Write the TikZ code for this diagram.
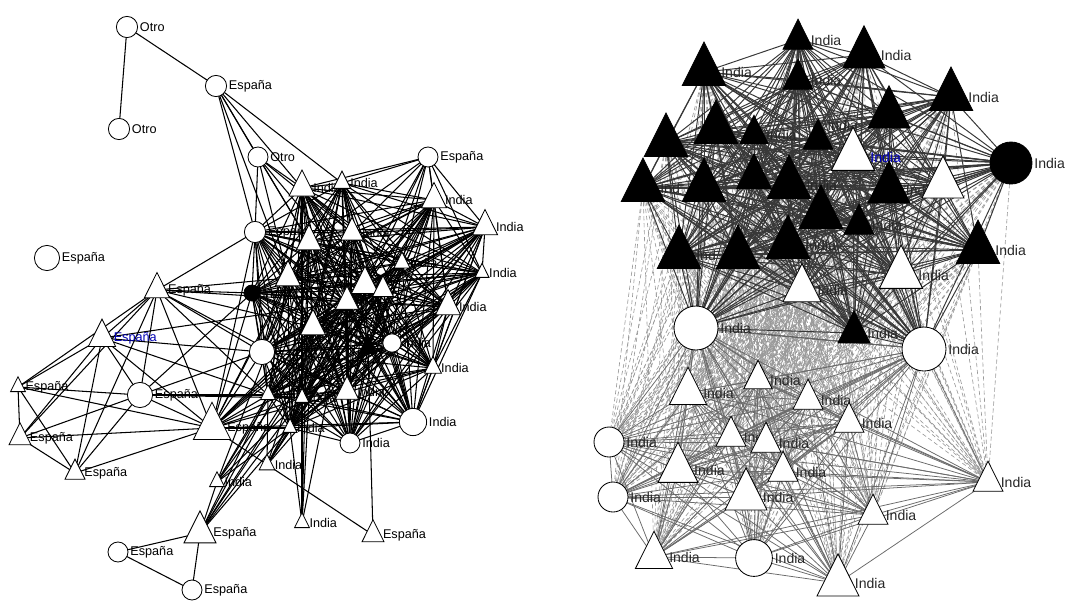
\documentclass[tikz,border=0pt]{standalone}
\usepackage{fontspec}
\setmainfont{Liberation Sans}
\usetikzlibrary{shapes.geometric, backgrounds}

\begin{document}
\begin{tikzpicture}[
    x=0.025cm, y=-0.025cm,
    every label/.style={inner sep=1.5pt, font=\fontsize{9}{10}\selectfont},
    nd/.style={draw=black, fill=white, inner sep=0pt, outer sep=0pt, line width=0.6pt},
    circ/.style={nd, circle, minimum size=#1},
    circ/.default=0.53cm,
    tri/.style={nd, isosceles triangle, isosceles triangle apex angle=53,
                shape border rotate=90, minimum size=#1},
    tri/.default=0.63cm,
    blk/.style={fill=black},
    big/.style={every label/.append style={font=\fontsize{10}{11}\selectfont, text=black!85}},
    lnk/.style={line width=0.75pt, black},
    toplnk/.style={line width=0.7pt, black!78},
    botlnk/.style={line width=0.55pt, black!58},
    crosslnk/.style={line width=0.45pt, black!40, densely dashed}
]
   \useasboundingbox (0,0) rectangle (1092,601);

   % Left network: nodes
   \node[circ, label=right:Otro] (L1) at (127,27) {};
   \node[circ, label=right:España] (L2) at (216,86) {};
   \node[circ, label=right:Otro] (L3) at (119,129) {};
   \node[circ=0.5cm, label=right:Otro] (L4) at (258,157) {};
   \node[circ=0.5cm, label=right:España] (L5) at (428,157) {};
   \node[tri=0.65cm, label=right:India] (L6) at (302,188) {};
   \node[tri=0.43cm, label=right:India] (L7) at (342,183) {};
   \node[tri, label=right:India] (L8) at (434,200) {};
   \node[tri, label=right:India] (L9) at (485,227) {};
   \node[circ, label=right:España] (L10) at (255,232) {};
   \node[tri] (L11) at (309,242) {};
   \node[tri=0.56cm, label=right:India] (L12) at (352,233) {};
   \node[tri=0.4cm, label=right:India] (L13) at (402,263) {};
   \node[tri=0.35cm, label=right:India] (L14) at (482,273) {};
   \node[circ=0.63cm, label=right:España] (L15) at (47,258) {};
   \node[tri, label=right:España] (L16) at (157,290) {};
   \node[circ=0.4cm, blk, label=right:India] (L17) at (252,293) {};
   \node[tri] (L18) at (288,278) {};
   \node[tri=0.68cm] (L19) at (365,285) {};
   \node[tri=0.58cm] (L20) at (347,302) {};
   \node[tri=0.52cm] (L21) at (383,290) {};
   \node[tri, label=right:India] (L22) at (448,307) {};
   \node[tri=0.68cm, label={[text=blue!70!black]right:España}] (L23) at (102,338) {};
   \node[tri] (L24) at (313,327) {};
   \node[circ=0.63cm] (L25) at (262,352) {};
   \node[tri=0.44cm, blk] (L26) at (368,348) {};
   \node[circ=0.46cm, label=right:India] (L27) at (392,343) {};
   \node[tri=0.42cm, label=right:India] (L28) at (433,368) {};
   \node[tri=0.37cm, label=right:España] (L29) at (18,387) {};
   \node[circ=0.63cm, label=right:España] (L30) at (140,395) {};
   \node[tri=0.37cm, label=right:India] (L31) at (268,395) {};
   \node[tri=0.35cm, label=right:India] (L32) at (302,398) {};
   \node[tri=0.58cm, label=right:India] (L33) at (347,392) {};
   \node[tri=0.93cm, label=right:España] (L34) at (212,428) {};
   \node[tri=0.35cm, label=right:India] (L35) at (290,428) {};
   \node[circ=0.5cm, label=right:India] (L36) at (350,443) {};
   \node[circ=0.68cm, label=right:India] (L37) at (413,422) {};
   \node[tri=0.55cm, label=right:España] (L38) at (20,438) {};
   \node[tri=0.5cm, label=right:España] (L39) at (75,473) {};
   \node[tri=0.39cm, label=right:India] (L40) at (267,465) {};
   \node[tri=0.37cm, label=right:India] (L41) at (217,482) {};
   \node[tri=0.37cm, label=right:India] (L42) at (302,523) {};
   \node[tri=0.8cm, label=right:España] (L43) at (200,533) {};
   \node[tri=0.55cm, label=right:España] (L44) at (373,535) {};
   \node[circ=0.5cm, label=right:España] (L45) at (118,552) {};
   \node[circ=0.5cm, label=right:España] (L46) at (192,590) {};

   % Right network: nodes
   \begin{scope}[big]
   \node[tri=0.75cm, blk, label=right:India] (R1) at (798,40) {};
   \node[tri=1.05cm, blk, label=right:India] (R2) at (864,55) {};
   \node[tri=1.08cm, blk, label=right:India] (R3) at (704,72) {};
   \node[tri=0.75cm, blk, label=right:India] (R4) at (798,80) {};
   \node[tri=1.08cm, blk, label=right:India] (R5) at (951,97) {};
   \node[tri=1.05cm, blk] (R6) at (889,115) {};
   \node[tri=1.08cm, blk] (R7) at (716,130) {};
   \node[tri=0.71cm, blk, label=right:India] (R8) at (754,135) {};
   \node[tri=0.75cm, blk, label=above right:India] (R9) at (818,140) {};
   \node[tri=1.08cm, label={[text=blue!75!black]right:India}] (R10) at (853,157) {};
   \node[tri=1.08cm, blk] (R11) at (666,143) {};
   \node[circ=1.05cm, blk, label=right:India] (R12) at (1011,163) {};
   \node[tri=1.08cm, blk, label=right:Ind] (R13) at (643,188) {};
   \node[tri=1.08cm, blk] (R14) at (704,188) {};
   \node[tri=0.87cm, blk] (R15) at (754,178) {};
   \node[tri=1.08cm, blk, label=right:India] (R16) at (789,185) {};
   \node[tri=1.05cm, blk, label=right:India] (R17) at (889,190) {};
   \node[tri=1.05cm] (R18) at (943,185) {};
   \node[tri=1.08cm, blk] (R19) at (821,215) {};
   \node[tri=0.75cm, blk, label=right:India] (R20) at (859,225) {};
   \node[tri=1.08cm, blk, label=right:Ind] (R21) at (679,255) {};
   \node[tri=1.08cm, blk] (R22) at (738,255) {};
   \node[tri=1.08cm, blk, label=right:India] (R23) at (788,245) {};
   \node[tri=1.08cm, blk, label=right:India] (R24) at (978,250) {};
   \node[tri=1.08cm, label=right:India] (R25) at (901,275) {};
   \node[tri=0.95cm, label=right:India] (R26) at (802,290) {};
   \node[circ=1.1cm, label=right:India] (R27) at (696,328) {};
   \node[tri=0.8cm, blk, label=right:India] (R28) at (854,333) {};
   \node[circ=1.1cm, label=right:India] (R29) at (924,349) {};
   \node[tri=0.93cm, label=right:India] (R30) at (688,393) {};
   \node[tri=0.71cm, label=right:India] (R31) at (758,380) {};
   \node[tri=0.75cm, label=right:India] (R32) at (808,400) {};
   \node[tri=0.75cm, label=right:India] (R33) at (849,423) {};
   \node[tri=0.75cm, label=right:India] (R34) at (731,437) {};
   \node[tri=0.75cm, label=right:India] (R35) at (766,443) {};
   \node[tri=1.0cm, label=right:India] (R36) at (678,470) {};
   \node[tri=0.75cm, label=right:India] (R37) at (783,472) {};
   \node[tri=1.05cm, label=right:India] (R38) at (746,497) {};
   \node[circ=0.75cm, label=right:India] (R39) at (609,442) {};
   \node[circ=0.75cm, label=right:India] (R40) at (613,497) {};
   \node[tri=0.75cm, label=right:India] (R41) at (873,515) {};
   \node[tri=0.75cm, label=right:India] (R42) at (988,482) {};
   \node[tri=0.93cm, label=right:India] (R43) at (654,557) {};
   \node[circ=0.92cm, label=right:India] (R44) at (754,558) {};
   \node[tri=1.05cm, label=right:India] (R45) at (838,583) {};
   \end{scope}

   % Links
   \def\lcore{L6,L7,L8,L9,L10,L11,L12,L13,L14,L17,L18,L19,L20,L21,L22,L24,L25,L26,L27,L28,L31,L32,L33,L35,L36,L37}
   \def\lwest{L16,L23,L29,L30,L34,L38,L39}
   \def\rtop{R1,R2,R3,R4,R5,R6,R7,R8,R9,R10,R11,R12,R13,R14,R15,R16,R17,R18,R19,R20,R21,R22,R23,R24,R25,R26,R27,R28,R29}
   \def\rbot{R27,R29,R30,R31,R32,R33,R34,R35,R36,R37,R38,R39,R40,R41,R42,R43,R44,R45}
   \def\rup{R1,R2,R3,R4,R5,R6,R7,R8,R9,R10,R11,R12,R13,R14,R15,R16,R17,R18,R19,R20,R21,R22,R23,R24,R25,R26}
   \def\rlow{R30,R31,R32,R33,R34,R35,R36,R37,R38,R39,R40,R41,R42,R43,R44,R45}
   \begin{pgfonlayer}{background}
   \foreach \a [count=\i] in \lcore
     \foreach \b [count=\j] in \lcore
       {\ifnum\j>\i \draw[lnk] (\a.center) -- (\b.center); \fi}
   \foreach \a [count=\i] in \lwest
     \foreach \b [count=\j] in \lwest
       {\ifnum\j>\i \draw[lnk] (\a.center) -- (\b.center); \fi}
   \path[lnk]
   (L1) edge (L2) edge (L3)
   (L2) edge (L4) edge (L10) edge (L18) edge (L11) edge (L7) edge (L6)
   (L4) edge (L10) edge (L6) edge (L11) edge (L18) edge (L12) edge (L19)
   (L5) edge (L6) edge (L7) edge (L8) edge (L9) edge (L11) edge (L12) edge (L13)
        edge (L14) edge (L19) edge (L21) edge (L22) edge (L20)
   (L16) edge (L17) edge (L10) edge (L25) edge (L18) edge (L24) edge (L31) edge (L20) edge (L33)
   (L23) edge (L20) edge (L25) edge (L31)
   (L30) edge (L25) edge (L31) edge (L17) edge (L32)
   (L34) edge (L17) edge (L10) edge (L25) edge (L24) edge (L18) edge (L11) edge (L19)
         edge (L20) edge (L21) edge (L31) edge (L32) edge (L33) edge (L35) edge (L27)
         edge (L37) edge (L44) edge (L13)
   (L43) edge (L45) edge (L46) edge (L31) edge (L32) edge (L35) edge (L24) edge (L20)
         edge (L19) edge (L41)
   (L45) edge (L46)
   (L41) edge (L31) edge (L32) edge (L35) edge (L24) edge (L20) edge (L11)
   (L40) edge (L31) edge (L32) edge (L35) edge (L24) edge (L19) edge (L21) edge (L26) edge (L13)
   (L42) edge (L32) edge (L35) edge (L24) edge (L20) edge (L11)
   (L44) edge (L26);
   \foreach \a in \rup
     \foreach \b in \rlow
       {\draw[crosslnk] (\a.center) -- (\b.center);}
   \foreach \a [count=\i] in \rtop
     \foreach \b [count=\j] in \rtop
       {\ifnum\j>\i \draw[toplnk] (\a.center) -- (\b.center); \fi}
   \foreach \a [count=\i] in \rbot
     \foreach \b [count=\j] in \rbot
       {\ifnum\j>\i \draw[botlnk] (\a.center) -- (\b.center); \fi}
   \end{pgfonlayer}
\end{tikzpicture}
\end{document}
